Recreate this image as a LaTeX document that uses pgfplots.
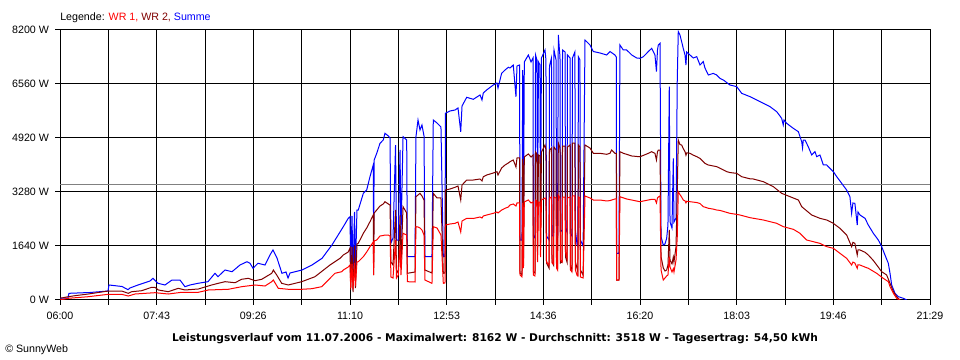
\documentclass[border=0pt]{standalone}
\usepackage{pgfplots}
\pgfplotsset{compat=1.18}
\usepackage{fontspec}
\setmainfont{Liberation Sans}
\newfontfamily\titlefont{DejaVu Sans}
\definecolor{wrone}{HTML}{FF0000}
\definecolor{wrtwo}{HTML}{800000}
\definecolor{summe}{HTML}{0000FF}
\definecolor{avg}{HTML}{808080}
\begin{document}
\begin{tikzpicture}
\fill[white] (-45pt,-45pt) rectangle (675pt,225pt);
\useasboundingbox (-45pt,-45pt) rectangle (675pt,225pt);
\begin{axis}[
  at={(0,0)}, anchor=south west,
  scale only axis, width=652.5pt, height=202.5pt,
  xmin=0, xmax=929, ymin=0, ymax=8200,
  xtick={0,51.611,103.222,154.833,206.444,258.056,309.667,361.278,412.889,464.5,516.111,567.722,619.333,670.944,722.556,774.167,825.778,877.389,929},
  xticklabels={06:00,,07:43,,09:26,,11:10,,12:53,,14:36,,16:20,,18:03,,19:46,,21:29},
  ytick={0,1640,3280,4920,6560,8200},
  yticklabels={0 W,1640 W,3280 W,4920 W,6560 W,8200 W},
  grid=major, major grid style={black, line width=0.75pt},
  axis line style={black, line width=0.75pt},
  tick style={black, line width=0.75pt},
  tick align=outside, major tick length=3.75pt,
  xtick pos=lower, ytick pos=left,
  ticklabel style={font=\fontsize{8}{9}\selectfont},
  xticklabel style={yshift=-2pt},
  yticklabel style={xshift=-1pt},
  every axis plot/.append style={line width=0.75pt, mark=none},
]
\addplot[avg] coordinates {(0,3518) (929,3518)};
\addplot[summe] table {
x y
0 52
8.5 61
9.6 203
32.0 228
51.3 273
52.3 456
66.2 410
72.6 313
74.7 364
83.3 456
96.1 577
99.3 659
104.6 507
112.1 456
119.6 607
128.1 607
133.5 404
138.8 456
147.4 507
158.0 556
165.5 811
168.7 708
176.2 911
183.7 859
192.2 1063
199.7 1163
202.9 1115
206.1 963
211.4 1115
218.9 1063
224.2 1367
227.4 1519
231.7 1276
237.0 811
241.3 850
243.5 668
245.6 820
258.4 911
269.1 1063
279.8 1266
290.4 1670
302.5 2226
307.8 2481
309.7 2530
310.4 911
311.8 2551
312.9 759
314.5 2673
315.5 911
317.1 2733
318.5 2733
323.9 3240
327.5 3341
331.0 3745
334.5 4100
334.9 1913
335.5 4252
338.2 4455
341.7 4759
345.2 4859
347.0 5063
350.6 4981
352.4 4920
353.4 1731
355.6 1883
358.3 4707
359.3 1822
361.2 1822
363.1 4556
364.1 1883
366.3 4959
370.2 4859
370.9 1315
379.1 1315
380.1 4959
382.3 5467
384.4 5163
386.5 5315
388.7 4981
389.7 1315
397.2 1315
398.6 5467
402.6 5375
406.8 5254
409.3 1315
411.1 1336
411.6 5670
416.4 5740
421.8 5770
425.0 5831
427.9 5111
429.3 5892
434.3 6156
441.3 6095
448.5 6226
450.6 6074
452.0 6287
455.6 6378
462.7 6530
466.6 6590
467.7 6438
471.6 6885
475.2 6985
478.7 7067
480.5 7046
484.0 7137
486.9 6174
488.0 7107
490.7 7137
491.2 1822
493.3 1822
494.1 6985
494.9 2126
495.8 7228
500.1 7441
503.0 7228
505.1 7350
505.5 1944
507.2 1883
507.8 7441
509.3 7289
509.9 2187
510.9 7228
512.5 7137
513.1 2369
514.1 7350
517.9 7593
518.9 7289
519.5 1944
522.2 1822
522.7 7107
524.8 7350
525.4 1944
527.0 1944
527.5 7593
529.7 7290
530.2 2126
531.3 2005
532.1 8048
533.9 7380
534.4 2065
536.1 2126
536.6 7593
539.3 7532
539.8 2187
541.4 2065
541.9 7441
544.6 7350
545.1 2005
546.7 1944
547.2 7350
549.8 7532
550.4 2126
552.0 1700
553.0 1640
553.6 7380
555.2 7289
555.7 1822
558.6 1640
560.6 7897
565.9 7745
569.5 7546
576.6 7502
583.8 7441
587.3 7546
592.6 7441
594.0 7380
594.4 1418
596.9 1418
597.9 7745
601.5 7593
605.1 7593
610.5 7441
615.8 7350
619.3 7340
622.9 7390
628.3 7546
631.8 7644
635.3 7441
636.9 6935
638.0 7593
638.9 7745
640.7 7796
641.8 1923
644.2 1670
646.0 1700
647.8 1873
649.2 2278
650.6 6478
651.4 2369
653.5 2187
654.9 4304
655.6 2369
657.8 2490
659.1 6630
660.2 8150
662.0 8048
663.8 7846
665.5 7644
667.4 7441
668.4 7137
669.2 7532
672.7 7441
676.2 7350
679.9 7390
683.4 7137
686.9 7239
688.7 7046
692.3 6833
697.6 6883
701.2 6833
704.8 6732
708.3 6682
715.4 6530
722.6 6480
727.9 6277
736.8 6176
743.9 6074
751.0 5973
758.1 5872
765.3 5720
770.6 5518
772.3 5315
773.1 5467
776.0 5365
783.1 5213
788.4 5112
790.2 4960
792.0 4808
792.9 4617
793.7 4859
795.5 4859
799.0 4656
802.7 4404
804.4 4455
806.2 4505
808.0 4354
811.5 4404
815.1 4100
818.7 4100
822.2 4000
825.8 3898
829.4 3745
834.7 3543
840.0 3341
843.5 3138
845.3 2632
846.7 2946
848.8 2936
851.3 2278
852.1 2673
854.2 2582
859.6 2480
863.1 2278
868.5 2025
873.8 1822
877.4 1620
880.9 1367
884.5 1114
886.3 810
888.1 456
891.6 203
895.2 101
900.5 51
904.1 0
};
\addplot[wrtwo] table {
x y
0 52
8.9 100
16.0 131
30.2 182
51.6 273
65.9 273
72.9 203
76.6 252
87.2 282
97.9 386
101.4 386
105.0 304
115.6 252
126.3 355
133.5 304
147.7 334
162.0 456
169.0 507
176.2 556
186.9 525
194.0 629
201.1 659
208.2 586
215.4 629
226.1 811
227.8 911
231.4 759
236.7 507
243.8 456
258.1 556
272.3 708
288.3 1063
299.0 1266
302.5 1367
307.8 1458
309.7 1579
310.4 304
311.8 1610
312.9 243
314.5 1640
315.5 364
317.1 1701
318.5 1722
323.9 2026
327.5 2187
331.0 2378
334.5 2581
334.9 759
335.5 2642
338.2 2733
341.7 2855
345.2 2916
347.0 2985
350.6 2916
352.4 2885
353.4 1154
355.6 1063
358.3 2733
359.3 911
361.2 811
363.1 2581
364.1 1063
366.3 2834
370.2 2642
370.9 811
379.1 850
380.1 3137
382.3 3189
384.4 3240
386.5 3158
388.7 3037
389.7 911
397.2 820
398.6 3240
402.6 3098
406.8 3098
409.3 811
411.1 820
411.6 3341
416.4 3371
421.8 3423
425.0 3462
427.9 3037
429.3 3493
434.3 3644
441.3 3644
448.5 3675
450.6 3614
452.0 3745
455.6 3796
462.7 3857
466.6 3896
467.7 3796
471.6 4009
475.2 4100
478.7 4161
480.5 4200
484.0 4252
486.9 4039
488.0 4313
490.7 4313
491.2 820
493.3 759
494.1 4282
494.9 1154
495.8 4343
500.1 4435
503.0 4343
505.1 4404
505.5 850
507.2 820
507.8 4495
509.3 4435
509.9 1367
510.9 4404
512.5 4374
513.1 1519
514.1 4495
517.9 4707
518.9 4556
519.5 1124
522.2 972
522.7 4556
524.8 4616
525.4 1154
527.0 1063
527.5 4646
529.7 4556
530.2 1063
531.3 1003
532.1 4768
533.9 4616
534.4 1124
536.1 1154
536.6 4676
539.3 4676
539.8 1306
541.4 1154
541.9 4646
544.6 4707
545.1 1003
546.7 911
547.2 4768
549.8 4768
550.4 1154
552.0 972
553.0 850
553.6 4707
555.2 4646
555.7 911
558.6 759
560.6 4707
565.9 4616
569.5 4455
576.6 4455
583.8 4425
587.3 4455
589.1 4556
592.6 4455
594.0 4455
594.4 607
596.9 607
597.9 4505
601.5 4455
605.1 4425
610.5 4374
619.3 4350
628.3 4455
631.8 4505
635.3 4455
636.9 4253
638.0 4505
638.9 4555
640.7 4555
641.8 1316
644.2 972
646.0 880
647.8 911
649.2 1063
650.6 2126
651.4 1200
653.5 1100
654.9 1300
655.6 1154
657.8 1620
659.1 3290
660.2 4859
662.0 4720
663.8 4707
665.5 4600
667.4 4505
668.4 4400
669.2 4470
672.7 4455
676.2 4400
679.9 4354
683.4 4300
686.9 4200
688.7 4150
692.3 4100
697.6 4070
701.2 4050
704.8 4000
711.9 3898
715.4 3870
722.6 3847
727.9 3745
736.8 3680
740.3 3675
751.0 3593
761.7 3442
770.6 3240
779.5 3138
788.4 3037
792.0 2834
802.7 2581
811.5 2480
818.7 2429
825.8 2328
832.9 2176
840.0 1974
845.3 1620
846.7 1750
848.8 1720
851.3 1367
852.1 1520
854.2 1519
859.6 1450
863.1 1367
868.5 1200
877.4 860
882.7 760
886.3 506
889.9 253
893.4 101
897.0 0
};
\addplot[wrone] table {
x y
0 0
8.9 52
30.2 100
51.6 173
65.9 173
72.9 121
80.1 182
101.4 222
115.6 182
130.0 234
147.7 234
158.4 304
179.7 325
194.0 404
208.2 456
218.9 425
226.1 556
227.8 607
233.1 355
243.8 325
258.1 325
268.8 343
279.4 404
286.5 607
293.6 811
300.8 859
302.5 911
307.8 1002
309.7 1063
310.4 364
311.8 1093
312.9 334
314.5 1124
315.5 425
317.1 1154
318.5 1163
323.9 1315
327.5 1458
331.0 1619
334.5 1761
334.9 759
335.5 1792
338.2 1822
341.7 1944
345.2 1959
347.0 1974
350.6 1974
352.4 1944
353.4 699
355.6 668
358.3 1822
359.3 668
361.2 759
363.1 1670
364.1 759
366.3 2026
370.2 1974
370.9 556
379.1 547
380.1 2226
382.3 2217
384.4 2187
386.5 2126
388.7 1974
389.7 607
397.2 507
398.6 2226
402.6 2187
406.8 1974
409.3 507
411.1 516
411.6 2278
416.4 2308
421.8 2329
425.0 2369
427.9 2065
429.3 2399
434.3 2481
441.3 2475
448.5 2521
450.6 2490
452.0 2551
455.6 2581
462.7 2633
466.6 2673
467.7 2642
471.6 2733
475.2 2785
478.7 2824
480.5 2885
484.0 2916
486.9 2855
488.0 2946
490.7 2946
491.2 759
493.3 699
494.1 2946
494.9 972
495.8 2976
500.1 3037
503.0 2946
505.1 2976
505.5 759
507.2 729
507.8 3037
509.3 3007
509.9 1154
510.9 2976
512.5 2976
513.1 1306
514.1 3037
517.9 3098
518.9 3037
519.5 1154
522.2 1063
522.7 3098
524.8 3128
525.4 1124
527.0 1093
527.5 3128
529.7 3098
530.2 972
531.3 911
532.1 3189
533.9 3098
534.4 1215
536.1 1154
536.6 3128
539.3 3128
539.8 1458
541.4 1276
541.9 3098
544.6 3128
545.1 911
546.7 850
547.2 3159
549.8 3159
550.4 911
552.0 759
553.0 729
553.6 3128
555.2 3098
555.7 699
558.6 668
560.6 3159
565.9 3098
569.5 3037
576.6 3037
583.8 3007
587.3 3020
592.6 3068
594.0 3068
594.4 607
596.9 607
597.9 3137
605.1 3068
619.3 2985
631.8 3058
635.3 3058
636.9 2946
638.0 3098
638.9 3128
640.7 3159
641.8 911
644.2 607
646.0 668
647.8 729
649.2 759
650.6 1320
651.4 1000
653.5 850
654.9 950
655.6 850
657.8 1215
659.1 1900
660.2 3290
662.0 3200
663.8 3128
665.5 3037
667.4 3010
668.4 2950
669.2 3000
672.7 2985
679.9 2960
683.4 2930
686.9 2834
688.7 2820
692.3 2785
697.6 2760
701.2 2733
704.8 2720
715.4 2632
722.6 2600
726.1 2581
736.8 2500
751.0 2430
765.3 2329
772.3 2228
783.1 2146
790.2 2025
797.3 1822
811.5 1720
818.7 1620
825.8 1570
832.9 1417
840.0 1266
845.3 1063
846.7 1150
848.8 1120
851.3 963
852.1 1070
854.2 1063
859.6 1000
863.1 963
872.1 810
879.1 658
884.5 557
886.3 405
889.9 203
893.4 51
897.0 0
};
\end{axis}
\node[anchor=base west, inner sep=0pt, font=\fontsize{8}{9}\selectfont] at (0pt,209.25pt)
  {Legende: \textcolor{wrone}{WR 1,} \textcolor{wrtwo}{WR 2,} \textcolor{summe}{Summe}};
\node[anchor=base, inner sep=0pt, font=\titlefont\fontsize{8}{9}\selectfont\bfseries] at (326.25pt,-31.5pt)
  {Leistungsverlauf vom 11.07.2006 - Maximalwert: 8162 W - Durchschnitt: 3518 W - Tagesertrag: 54,50 kWh};
\node[anchor=base west, inner sep=0pt, font=\fontsize{8}{9}\selectfont] at (-41.25pt,-39.75pt)
  {© SunnyWeb};
\end{tikzpicture}
\end{document}
